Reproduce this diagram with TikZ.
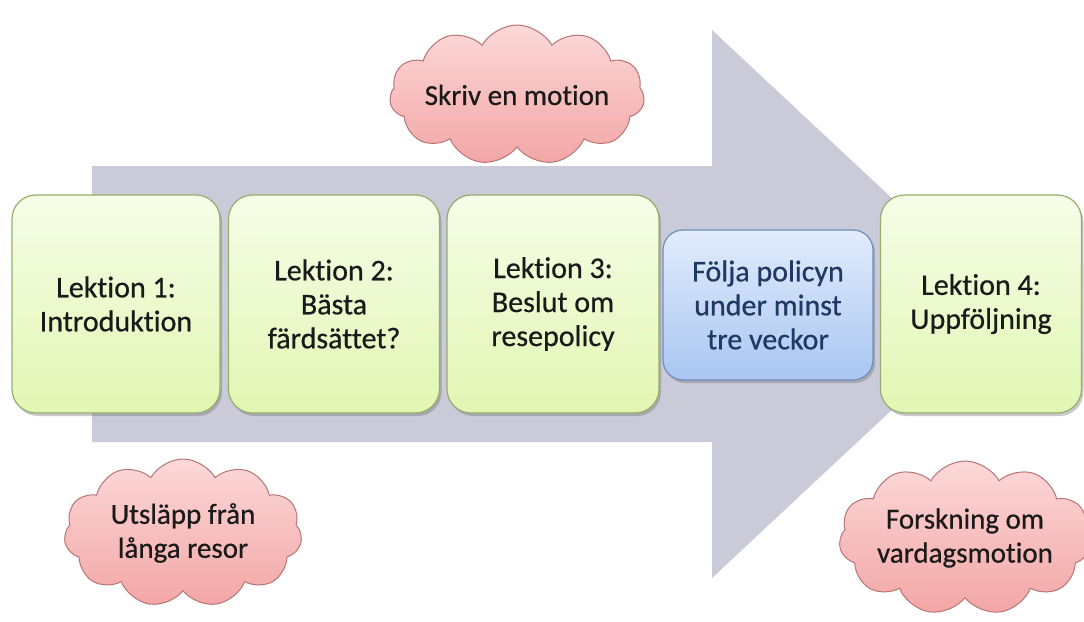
\documentclass[tikz,border=0pt]{standalone}
\usepackage{fontspec}
\setmainfont{Carlito}[FakeBold=0.6,Ligatures=NoCommon]
\usetikzlibrary{shapes.symbols,shadows}
\definecolor{arrowgray}{HTML}{CACAD8}
\definecolor{gtop}{HTML}{F6FDE8}
\definecolor{gbot}{HTML}{E2F6B2}
\definecolor{gborder}{HTML}{94AE6E}
\definecolor{btop}{HTML}{E2ECFC}
\definecolor{bbot}{HTML}{A9C6F1}
\definecolor{bborder}{HTML}{6F8DBE}
\definecolor{btext}{HTML}{1F3864}
\definecolor{ctop}{HTML}{FCD8D8}
\definecolor{cbot}{HTML}{F3A6A6}
\definecolor{cborder}{HTML}{B87474}
\definecolor{txt}{HTML}{1A1A1A}
\tikzset{
  lesson/.style={draw=gborder, line width=1.2pt, rounded corners=24pt,
    top color=gtop, bottom color=gbot, minimum height=218pt,
    align=center, text=txt, font=\fontsize{30}{34}\selectfont,
    drop shadow={shadow xshift=2pt, shadow yshift=-3pt, opacity=0.35, fill=black!60}},
  policy/.style={draw=bborder, line width=1.2pt, rounded corners=20pt,
    top color=btop, bottom color=bbot, minimum width=210pt, minimum height=150pt,
    align=center, text=btext, font=\fontsize{30}{34}\selectfont,
    drop shadow={shadow xshift=2pt, shadow yshift=-3pt, opacity=0.35, fill=black!60}},
  idea/.style={cloud, cloud puffs=11, cloud puff arc=120, cloud ignores aspect,
    draw=cborder, line width=1pt,
    top color=ctop, bottom color=cbot, inner sep=0pt, align=center, text=txt,
    font=\fontsize{29}{34}\selectfont}
}
\begin{document}
\begin{tikzpicture}[x=1pt,y=-1pt]
\useasboundingbox (0,0) rectangle (1084,621);
\fill[white] (0,0) rectangle (1084,621);
% big arrow
\fill[arrowgray] (92,166) -- (712,166) -- (712,30) -- (1005,304) -- (712,578) -- (712,442) -- (92,442) -- cycle;
% clouds
\node[idea, minimum width=245pt, minimum height=140pt] (c1) at (517,95) {Skriv en motion};
\node[idea, minimum width=238pt, minimum height=148pt] (c2) at (183,533) {Utsläpp från\\långa resor};
\node[idea, minimum width=238pt, minimum height=154pt] (c3) at (965,538) {Forskning om\\vardagsmotion};
% boxes
\node[lesson, minimum width=208pt] (l1) at (116,304) {Lektion 1:\\Introduktion};
\node[lesson, minimum width=211pt] (l2) at (334,304) {Lektion 2:\\Bästa\\färdsättet?};
\node[lesson, minimum width=212pt] (l3) at (553,304) {Lektion 3:\\Beslut om\\resepolicy};
\node[policy] (p) at (768,305) {Följa policyn\\under minst\\tre veckor};
\node[lesson, minimum width=201pt] (l4) at (981,304) {Lektion 4:\\Uppföljning};
\end{tikzpicture}
\end{document}
